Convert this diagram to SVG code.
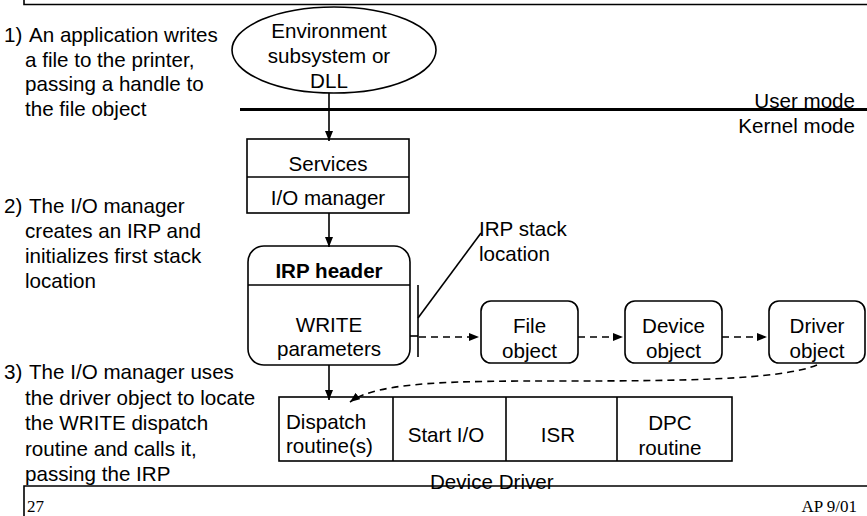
<svg xmlns="http://www.w3.org/2000/svg" width="867" height="516" viewBox="0 0 867 516">
  <defs>
    <style>
      text { font-family: "Liberation Sans", Arial, sans-serif; font-size: 20.6px; fill: #000; }
      .c { text-anchor: middle; }
      .r { text-anchor: end; }
      .b { font-weight: bold; }
      .foot { font-family: "Liberation Serif", "Times New Roman", serif; font-size: 17px; }
      .box { fill: #fff; stroke: #000; stroke-width: 1.6; }
      .ln { fill: none; stroke: #000; stroke-width: 1.6; }
      .dash { fill: none; stroke: #000; stroke-width: 1.6; stroke-dasharray: 7 5; }
    </style>
    <marker id="head" markerUnits="userSpaceOnUse" viewBox="0 0 10 8" refX="10" refY="4" markerWidth="10" markerHeight="8" orient="auto">
      <path d="M0 0 L10 4 L0 8 Z" fill="#000"/>
    </marker>
  </defs>

  <rect width="867" height="516" fill="#fff"/>

  <!-- slide frame -->
  <g id="frame">
    <path class="ln" d="M24 0 V4.5 H867"/>
    <path class="ln" d="M867 486 H24 V516"/>
    <text class="foot" x="27" y="512">27</text>
    <text class="foot r" x="857" y="512">AP 9/01</text>
  </g>

  <!-- user / kernel boundary -->
  <g id="mode-boundary">
    <line x1="240" y1="109.5" x2="867" y2="109.5" stroke="#000" stroke-width="3"/>
    <text class="r" x="855" y="107.5">User mode</text>
    <text class="r" x="855" y="133">Kernel mode</text>
  </g>

  <!-- step captions -->
  <g id="step1">
    <text x="4" y="42">1)</text>
    <text x="29" y="42">An application writes</text>
    <text x="25" y="66.5">a file to the printer,</text>
    <text x="25" y="91">passing a handle to</text>
    <text x="25" y="115.5">the file object</text>
  </g>
  <g id="step2">
    <text x="4" y="213">2)</text>
    <text x="29" y="213">The I/O manager</text>
    <text x="25" y="238">creates an IRP and</text>
    <text x="25" y="263">initializes first stack</text>
    <text x="25" y="288">location</text>
  </g>
  <g id="step3">
    <text x="4" y="379">3)</text>
    <text x="29" y="379">The I/O manager uses</text>
    <text x="25" y="404.5">the driver object to locate</text>
    <text x="25" y="430">the WRITE dispatch</text>
    <text x="25" y="455.5">routine and calls it,</text>
    <text x="25" y="481">passing the IRP</text>
  </g>

  <!-- nodes -->
  <g id="environment-subsystem">
    <ellipse class="box" cx="334" cy="50" rx="102" ry="43"/>
    <text class="c" x="329" y="38">Environment</text>
    <text class="c" x="329" y="63">subsystem or</text>
    <text class="c" x="329" y="87.5">DLL</text>
  </g>

  <g id="services-io-manager">
    <rect class="box" x="247" y="139" width="162" height="74"/>
    <line class="ln" x1="247" y1="177" x2="409" y2="177"/>
    <text class="c" x="328" y="171">Services</text>
    <text class="c" x="328" y="205">I/O manager</text>
  </g>

  <g id="irp">
    <rect class="box" x="248" y="246" width="162" height="119" rx="16"/>
    <line class="ln" x1="248" y1="285" x2="410" y2="285"/>
    <text class="c b" x="329" y="278">IRP header</text>
    <text class="c" x="329" y="332">WRITE</text>
    <text class="c" x="329" y="356">parameters</text>
  </g>

  <g id="irp-stack-location">
    <line class="ln" x1="410" y1="336" x2="418" y2="336"/>
    <line class="ln" x1="418" y1="285" x2="418" y2="357"/>
    <line class="ln" x1="418" y1="318" x2="481" y2="233"/>
    <text x="479" y="236">IRP stack</text>
    <text x="479" y="261">location</text>
  </g>

  <g id="file-object">
    <rect class="box" x="481" y="301" width="97" height="62" rx="10"/>
    <text class="c" x="529.5" y="333">File</text>
    <text class="c" x="529.5" y="358">object</text>
  </g>

  <g id="device-object">
    <rect class="box" x="625" y="301" width="97" height="62" rx="10"/>
    <text class="c" x="673.5" y="333">Device</text>
    <text class="c" x="673.5" y="358">object</text>
  </g>

  <g id="driver-object">
    <rect class="box" x="769" y="301" width="96" height="62" rx="10"/>
    <text class="c" x="817" y="333">Driver</text>
    <text class="c" x="817" y="358">object</text>
  </g>

  <g id="device-driver">
    <rect class="box" x="279" y="397" width="453" height="64"/>
    <line class="ln" x1="393" y1="397" x2="393" y2="461"/>
    <line class="ln" x1="506" y1="397" x2="506" y2="461"/>
    <line class="ln" x1="617" y1="397" x2="617" y2="461"/>
    <text x="286" y="429">Dispatch</text>
    <text x="286" y="453">routine(s)</text>
    <text class="c" x="446" y="442">Start I/O</text>
    <text class="c" x="558" y="442">ISR</text>
    <text class="c" x="670" y="430">DPC</text>
    <text class="c" x="670" y="455">routine</text>
    <text x="430" y="489">Device Driver</text>
  </g>

  <!-- connectors -->
  <g id="connectors">
    <line class="ln" x1="329" y1="93" x2="329" y2="141" marker-end="url(#head)"/>
    <line class="ln" x1="329" y1="213" x2="329" y2="247" marker-end="url(#head)"/>
    <line class="ln" x1="329" y1="365" x2="329" y2="400" marker-end="url(#head)"/>
    <line class="dash" x1="419" y1="337" x2="479" y2="337" marker-end="url(#head)"/>
    <line class="dash" x1="578" y1="337" x2="623" y2="337" marker-end="url(#head)"/>
    <line class="dash" x1="722" y1="337" x2="767" y2="337" marker-end="url(#head)"/>
    <path class="dash" d="M817 365 C780 380 680 381 560 381 C460 381 378 381 350 402" marker-end="url(#head)"/>
  </g>
</svg>
